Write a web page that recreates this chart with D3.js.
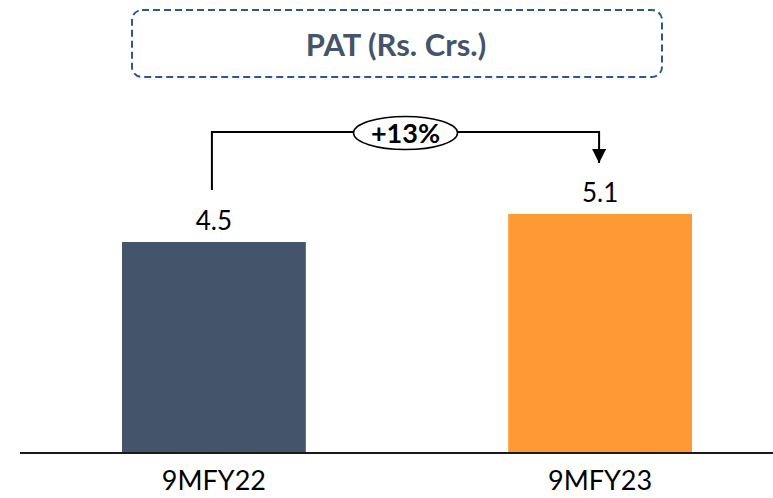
<!DOCTYPE html>
<html>
<head>
<meta charset="utf-8">
<script src="https://cdn.jsdelivr.net/npm/d3@7"></script>
<style>
  body { margin: 0; background: #fff; }
  text { font-family: Lato, "Liberation Sans", sans-serif; }
</style>
</head>
<body>
<svg id="chart" width="773" height="498"></svg>
<script>
// data
let categories = ["9MFY22", "9MFY23"]
let values = [4.5, 5.1]
let barColors = ["#44546A", "#FF9933"]
let titleText = "PAT (Rs. Crs.)"
let growthLabel = "+13%"

const svg = d3.select('#chart')

let x = d3.scaleBand()
    .domain(categories)
    .range([122, 692])
    .paddingInner(0.524)
    .paddingOuter(0)

let y = d3.scaleLinear()
    .domain([0, 4.5])
    .range([452, 242])

/* title box */
svg.append('rect')
    .attr('x', 132).attr('y', 10)
    .attr('width', 530).attr('height', 67)
    .attr('rx', 10).attr('ry', 10)
    .attr('fill', 'none')
    .attr('stroke', '#2F5597')
    .attr('stroke-width', 2)
    .attr('stroke-dasharray', '7 4')

svg.append('text')
    .attr('x', 396).attr('y', 56)
    .attr('text-anchor', 'middle')
    .attr('font-size', 31)
    .attr('font-weight', 'bold')
    .attr('fill', '#44546A')
    .text(titleText)

/* bars */
let data = categories.map((c, i) => ({cat: c, val: values[i], color: barColors[i]}))

svg.append('g')
    .selectAll('.bar')
    .data(data)
    .join('rect')
    .attr('class', 'bar')
    .attr('x', d => x(d.cat))
    .attr('y', d => y(d.val))
    .attr('width', x.bandwidth())
    .attr('height', d => y(0) - y(d.val))
    .attr('fill', d => d.color)

svg.append('g')
    .selectAll('.valLabel')
    .data(data)
    .join('text')
    .attr('class', 'valLabel')
    .attr('x', d => x(d.cat) + x.bandwidth() / 2)
    .attr('y', d => y(d.val) - 12)
    .attr('text-anchor', 'middle')
    .attr('font-size', 26)
    .attr('fill', '#000')
    .text(d => d.val.toFixed(1))

/* baseline + category axis */
let axis = d3.axisBottom(x).tickSize(0).tickPadding(19)

let gAxis = svg.append('g')
    .attr('transform', `translate(0, ${y(0)})`)
    .call(axis)

gAxis.select('.domain').remove()
gAxis.selectAll('text')
    .attr('font-size', 27)
    .attr('fill', '#000')
    .attr('dy', '0.71em')

svg.append('line')
    .attr('x1', 20).attr('x2', 773)
    .attr('y1', y(0) + 1).attr('y2', y(0) + 1)
    .attr('stroke', '#1a1a1a')
    .attr('stroke-width', 2)

/* growth annotation */
let x0 = x(categories[0]) + x.bandwidth() / 2 - 2
let x1 = x(categories[1]) + x.bandwidth() / 2 - 1
let topY = 132

svg.append('defs').append('marker')
    .attr('id', 'arrowHead')
    .attr('viewBox', '0 0 10 10')
    .attr('refX', 10).attr('refY', 5)
    .attr('markerWidth', 14).attr('markerHeight', 14)
    .attr('markerUnits', 'userSpaceOnUse')
    .attr('orient', 'auto')
    .append('path')
    .attr('d', 'M0,0 L10,5 L0,10 Z')
    .attr('fill', '#000')

svg.append('path')
    .attr('d', `M${x0},${y(values[0]) - 52} V${topY} H${x1} V${y(values[1]) - 51}`)
    .attr('fill', 'none')
    .attr('stroke', '#000')
    .attr('stroke-width', 2)
    .attr('marker-end', 'url(#arrowHead)')

let midX = (x0 + x1) / 2
svg.append('ellipse')
    .attr('cx', midX).attr('cy', topY + 1)
    .attr('rx', 52).attr('ry', 16.5)
    .attr('fill', '#fff')
    .attr('stroke', '#000')
    .attr('stroke-width', 1.5)

svg.append('text')
    .attr('x', midX).attr('y', topY + 11)
    .attr('text-anchor', 'middle')
    .attr('font-size', 27)
    .attr('font-weight', 'bold')
    .attr('fill', '#000')
    .text(growthLabel)
</script>
</body>
</html>
